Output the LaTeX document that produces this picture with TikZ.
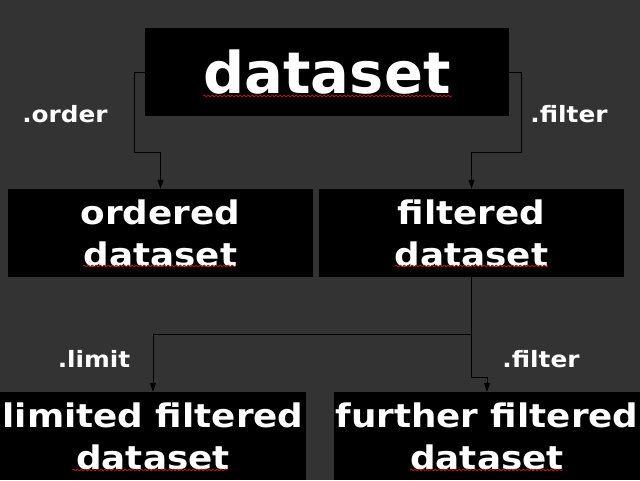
\documentclass[tikz,border=0pt]{standalone}
\usepackage{fontspec}
\setmainfont{DejaVu Sans}
\newfontfamily\widefont[FakeStretch=1.1]{DejaVu Sans}
\usetikzlibrary{arrows.meta}
\usetikzlibrary{decorations.pathmorphing}
\definecolor{slate}{HTML}{333333}
\definecolor{spellred}{HTML}{B01515}

\begin{document}
\begin{tikzpicture}[x=1pt,y=-1pt,
  box/.style={fill=black, text=white, inner sep=0pt, align=center, minimum height=88pt,
    font=\widefont\bfseries\fontsize{32.5}{42}\selectfont},
  op/.style={text=white, anchor=base, font=\widefont\bfseries\fontsize{22.5}{27}\selectfont},
  conn/.style={line width=1pt, -{Triangle[length=9pt,width=6pt]}},
  squiggle/.style={spellred, line width=0.9pt, decorate,
    decoration={snake, amplitude=0.8pt, segment length=4pt}}]
\useasboundingbox (0,0) rectangle (640,480);
\fill[slate] (0,0) rectangle (640,480);

% boxes
\node[box, minimum width=364pt, font=\bfseries\fontsize{57.5}{60}\selectfont] (dataset) at (327,72) {dataset};
\node[box, minimum width=305pt] (ordered) at (160.5,233) {ordered\\dataset};
\node[box, minimum width=305pt] (filtered) at (471.5,233) {filtered\\dataset};
\node[box, minimum width=306pt] (limited) at (153,436) {limited filtered\\dataset};
\node[box, minimum width=306pt] (further) at (487,436) {further filtered\\dataset};

% operations
\node[op] (orderop) at (65,122) {.order};
\node[op] (filterop) at (569,122) {.filter};
\node[op] (limitop) at (94,367) {.limit};
\node[op] (refilterop) at (541,367) {.filter};

% connectors
\draw[conn] (dataset.west) -| (134,152) -| (ordered.north);
\draw[conn] (dataset.east) -| (521,152) -| (filtered.north);
\draw[conn] (filtered.south) |- (153,334) -- (limited.north);
\draw[conn] (filtered.south) |- (487,377) -- (further.north);

% spell check marks
\draw[squiggle] (203,96) -- (452,96);
\draw[squiggle] (83,266) -- (236,266);
\draw[squiggle] (395,266) -- (548,266);
\draw[squiggle] (72,470) -- (228,470);
\draw[squiggle] (410,470) -- (563,470);
\end{tikzpicture}
\end{document}
